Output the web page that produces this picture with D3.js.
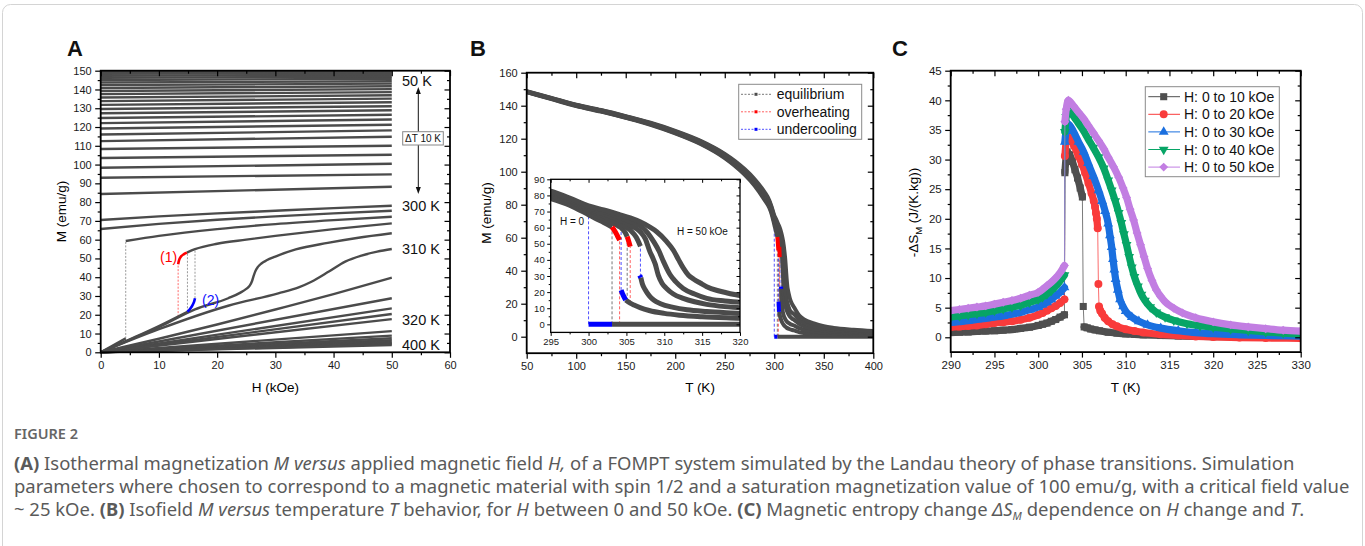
<!DOCTYPE html>
<html>
<head>
<meta charset="utf-8">
<style>
body { margin: 0; background: #fff; overflow: hidden; }
svg { display: block; }
</style>
</head>
<body>
<svg width="1365" height="546"></svg>
<script src="https://d3js.org/d3.v7.min.js"></script>
<script>

// ---------- panel A : isotherms M(H) ----------
var aTlow = [50,60,70,80,90,100,110,120,130,140,150,160,170,180,190,200,210,220,230,240,250,260,270,280,290];
var aM0  = [149.2,148.3,147.3,146.2,145.0,143.7,142.3,140.8,139.2,137.5,135.7,133.8,131.8,129.6,127.3,124.8,122.1,119.2,116.0,112.5,108.3,103.5,98.3,93.0,84.3];
var aM50 = [149.6,148.8,147.8,146.8,145.7,144.4,143.1,141.7,140.2,138.6,136.9,135.1,133.2,131.1,128.9,126.5,124.0,121.2,118.2,114.8,110.0,105.2,100.4,94.8,88.2];
var aTpara = [314,316,318,320,330,340,350,360,370,380,390,400];
var aMpara = [28.8,23.4,20.4,17.7,11.3,8.9,7.5,6.5,5.7,5.0,4.4,3.9];
var a300 = [[0,70.5],[10,72.4],[20,74.0],[30,75.4],[40,76.8],[50,78.1]];
var a302 = [[0,65.7],[10,68.4],[20,70.6],[30,72.4],[40,74.0],[50,75.4]];
var a304hi = [[4.3,59.3],[10,62.0],[20,65.6],[30,68.3],[40,70.4],[50,72.2]];
var a304lo = [[0,0],[4.3,7.4]];
var a306hi = [[14.8,53.1],[16.2,54.9],[20,57.8],[25,60.0],[30,62.0],[40,65.6],[50,68.7]];
var a306lo = [[0,0],[5,6.9],[10,14.0],[14.9,21.6]];
var a306over = [[13.3,46.9],[13.45,49.0],[13.8,51.0],[14.3,52.3],[14.8,53.1]];
var a306under = [[14.9,21.6],[15.4,23.3],[15.8,25.3],[16.05,27.0],[16.2,28.8]];
var a308 = [[0,0],[5,6.6],[10,13.4],[16.2,22.9],[21.9,28.8],[24,31.8],[25,33.8],[25.6,35.5],[26,38],[26.3,41],[26.6,43.5],[27,45.5],[27.6,47.3],[28.5,49],[30,51],[33.5,54.8],[39,58.3],[44,60.9],[50,63.4]];
var a310 = [[0,0],[10,12.3],[21.9,24.8],[30.5,31.4],[34,34.6],[36.2,37.6],[39.2,43],[42,48.3],[44.8,51.5],[47.5,53.6],[50,55]];
var a312 = [[0,0],[10,7.2],[20,14.8],[30,22.8],[40,31.0],[50,39.8]];
var aDash = [[4.3,7.4,59.3,"e"],[13.3,19,46.9,"o"],[14.9,21.6,53.1,"e"],[16.2,28.8,54.9,"e"]];
var aLabels = [["50 K",86],["300 K",211],["310 K",254],["320 K",325],["400 K",350]];

// ---------- panel B : isofield M(T), H = 0..50 kOe ----------
var bT   = [50,75,100,125,150,175,200,225,250,260,270,280,290,295,297.5];
var bM0  = [148.2,144.0,139.8,136.4,132.6,128.4,123.2,116.9,108.2,103.6,98.2,91.6,83.0,78.1,74.0];
var bM10 = [148.3,144.1,140.0,136.6,132.8,128.7,123.5,117.3,108.7,104.2,98.9,92.4,84.0,79.1,75.2];
var bM20 = [148.4,144.3,140.1,136.8,133.0,128.9,123.8,117.7,109.2,104.8,99.6,93.2,85.0,80.0,76.2];
var bM30 = [148.5,144.4,140.3,137.0,133.3,129.2,124.2,118.1,109.8,105.4,100.2,94.0,85.9,80.8,76.9];
var bM40 = [148.7,144.6,140.5,137.2,133.5,129.4,124.5,118.5,110.3,106.0,100.9,94.8,86.8,81.7,77.6];
var bM50 = [148.8,144.7,140.6,137.4,133.7,129.7,124.8,118.9,110.8,106.6,101.6,95.6,87.8,82.6,78.3];
var b0hi  = [[300,68.0],[301,65.5],[302,63.2],[303.1,60.4]];
var b0over = [[303.1,60.4],[303.5,57.6],[303.8,55.0],[304.1,52.3]];
var b0under = [[300,0],[303.1,0]];
var b0lo  = [[303.1,0],[400,0]];
var b10hi = [[300,69.6],[301,67.6],[302,65.5],[303,63.3],[304,60.8],[304.4,59.4],[304.8,57.2],[305.1,54.4]];
var b10over = [[305.1,54.4],[305.3,51.6],[305.5,48.2]];
var b10under = [[304.3,21.3],[304.6,17.8],[304.9,15.1]];
var b10lo = [[304.9,15.1],[305.5,13.2],[306,12.0],[306.8,10.4],[308,8.6],[310,6.8],[312,5.7],[315,4.7],[320,3.8],[325,2.8],[330,2.2],[340,1.6],[350,1.3],[360,1.1],[380,0.9],[400,0.7]];
var b20hi = [[300,70.8],[302,67.2],[304,63.0],[305.5,58.5],[306.3,54.0],[306.85,48.5]];
var b20under = [[306.75,30.4],[306.9,29.0]];
var b20lo = [[306.9,29.0],[307.1,25.2],[307.5,21.3],[308,17.8],[308.6,15.1],[309.5,12.8],[311.2,10.5],[313,9.0],[315.6,7.9],[320,6.8],[325,5.2],[330,4.2],[340,3.2],[350,2.6],[360,2.2],[380,1.7],[400,1.4]];
var b30 = [[300,71.7],[302,68.6],[304,65.0],[305.5,61.4],[306.8,57.5],[307.5,53.0],[308.1,45.1],[308.5,41.0],[308.8,37.5],[309.2,30.6],[309.7,25.5],[310.3,22.3],[311.2,18.8],[312.5,16.1],[314,14.0],[315.6,12.4],[318,11.0],[320,10.3],[325,7.8],[330,6.3],[340,4.7],[350,3.8],[360,3.2],[380,2.5],[400,2.1]];
var b40 = [[300,72.6],[302,69.9],[304,66.7],[305.5,63.8],[306.8,61.2],[307.8,56.8],[308.6,51.3],[309.3,45.5],[309.9,38.9],[310.4,34.0],[310.8,30.6],[311.5,26.5],[312.5,22.3],[314,18.8],[315.6,16.1],[318,14.5],[320,13.7],[325,10.3],[330,8.4],[340,6.3],[350,5.0],[360,4.2],[380,3.3],[400,2.7]];
var b50 = [[300,73.5],[302,71.0],[304,68.2],[305.5,66.0],[306.8,63.6],[308,60.6],[309,57.5],[310.2,52.0],[311.2,46.0],[311.9,40.0],[312.5,35.0],[313.2,30.5],[313.9,28.0],[314.8,25.5],[315.6,23.4],[317,21.0],[318.2,19.6],[320,17.8],[325,13.0],[330,10.5],[340,8.0],[350,6.3],[360,5.3],[380,4.2],[400,3.4]];
var bDash = [[300,0,68.0,"u"],[303.1,0,60.4,"e"],[304.1,0,52.3,"o"],[304.3,21.3,59.6,"u"],[305.1,14.6,54.4,"e"],[305.5,13.2,48.2,"o"],[306.85,29.6,48.5,"u"]];
var bLegend = ["equilibrium","overheating","undercooling"];

// ---------- panel C : -dS_M(T) ----------
var c10a = [[290,0.8],[291,0.85],[292,0.9],[293,1.0],[294,1.05],[295,1.1],[296,1.2],[297,1.3],[298,1.5],[299,1.7],[300,2.0],[300.5,2.2],[301,2.4],[301.5,2.7],[302,3.0],[302.5,3.4],[303,3.8]];
var c10b = [[303.05,27.8],[303.3,31.3],[303.6,30.8],[303.9,29.7],[304.2,28.3],[304.5,26.9],[304.8,25.2],[305.05,23.7]];
var c10c = [[305.15,5.2]];
var c10d = [[305.25,1.75],[305.6,1.6],[306,1.4],[306.5,1.25],[307,1.1],[308,0.85],[309,0.7],[310,0.58],[311,0.5],[312,0.42],[314,0.3],[316,0.22],[318,0.16],[320,0.12],[323,0.06],[326,0.02],[330,-0.02]];
var c20a = [[290,1.7],[291,1.8],[292,1.9],[293,2.0],[294,2.2],[295,2.4],[296,2.55],[297,2.7],[298,2.95],[299,3.3],[300,3.8],[300.5,4.1],[301,4.5],[301.5,4.9],[302,5.3],[302.5,5.8],[303,6.4]];
var c20b = [[303.05,30.6],[303.3,33.9],[303.7,33.4],[304.1,32.3],[304.6,30.6],[305,29.2],[305.35,27.8],[305.75,26.0],[306.1,24.3],[306.35,23.0],[306.5,22.0],[306.6,21.0],[306.7,20.0],[306.8,18.4]];
var c20c = [[306.88,9.0]];
var c20d = [[306.95,5.2],[307.1,4.5],[307.3,4.0],[307.6,3.3],[308,2.7],[308.5,2.2],[309,1.85],[310,1.35],[311,1.05],[312,0.8],[314,0.5],[316,0.3],[318,0.15],[320,0.05],[323,-0.05],[326,-0.12],[330,-0.18]];
var c30a = [[290,2.5],[291,2.65],[292,2.8],[293,3.0],[294,3.2],[295,3.4],[296,3.6],[297,3.9],[298,4.2],[299,4.65],[300,5.1],[300.5,5.5],[301,5.9],[301.5,6.4],[302,7.0],[302.5,7.6],[303,8.4]];
var c30b = [[303.05,33.0],[303.2,35.0],[303.45,36.0],[304,34.8],[304.6,33.0],[305.2,31.3],[305.7,29.4],[306.3,27.2],[306.9,24.8],[307.3,23.0],[307.65,21.3],[308,19.2],[308.2,17.2],[308.4,15.2],[308.55,13.2],[308.7,11.4],[308.85,9.8],[309.1,8.0],[309.35,6.4],[309.7,5.2],[310,4.4],[310.7,3.4],[311.5,2.7],[312.5,2.1],[314,1.55],[316,1.1],[318,0.8],[320,0.6],[323,0.42],[326,0.3],[330,0.2]];
var c40a = [[290,3.4],[291,3.6],[292,3.8],[293,4.0],[294,4.2],[295,4.5],[296,4.8],[297,5.1],[298,5.4],[299,5.9],[300,6.4],[300.5,6.8],[301,7.3],[301.5,7.9],[302,8.6],[302.5,9.5],[303,10.5]];
var c40b = [[303.05,34.7],[303.2,37.2],[303.4,38.4],[304,37.4],[304.6,36.1],[305.2,34.8],[305.7,33.5],[306.3,32.0],[306.9,30.4],[307.5,28.5],[308,26.5],[308.4,24.8],[308.8,23.0],[309.2,21.0],[309.5,19.3],[309.8,17.4],[310.1,15.6],[310.4,13.6],[310.7,11.8],[311,10.2],[311.4,8.6],[311.8,7.2],[312.2,6.2],[312.8,5.1],[313.5,4.2],[314.5,3.4],[315.5,2.85],[317,2.3],[318.5,1.95],[320,1.7],[322,1.4],[324,1.15],[326,0.9],[328,0.7],[330,0.55]];
var c50a = [[290,4.5],[291,4.7],[292,4.9],[293,5.1],[294,5.3],[295,5.6],[296,5.9],[297,6.2],[298,6.6],[299,7.1],[300,7.6],[300.5,8.1],[301,8.7],[301.5,9.3],[302,10.0],[302.5,10.9],[303,12.1]];
var c50b = [[303.05,36.4],[303.2,38.5],[303.45,40.0],[304,39.1],[304.6,38.0],[305.2,36.9],[305.7,35.8],[306.3,34.5],[306.9,33.2],[307.5,31.8],[308,30.4],[308.6,28.8],[309.2,27.0],[309.7,25.2],[310.1,23.6],[310.5,21.6],[310.9,19.8],[311.3,17.6],[311.7,15.6],[312.1,13.6],[312.5,11.6],[313,9.6],[313.5,8.0],[314,6.9],[314.5,6.0],[315.5,4.9],[316.5,4.1],[318,3.3],[320,2.6],[322,2.1],[324,1.75],[326,1.45],[328,1.2],[330,1.05]];
var cNames = ["H: 0 to 10 kOe","H: 0 to 20 kOe","H: 0 to 30 kOe","H: 0 to 40 kOe","H: 0 to 50 kOe"];

var capLines = [
  [["(A)","b"],[" Isothermal magnetization ",""],["M versus","i"],[" applied magnetic field ",""],["H,","i"],[" of a FOMPT system simulated by the Landau theory of phase transitions. Simulation",""]],
  [["parameters where chosen to correspond to a magnetic material with spin 1/2 and a saturation magnetization value of 100 emu/g, with a critical field value",""]],
  [["~ 25 kOe. ",""],["(B)","b"],[" Isofield ",""],["M versus","i"],[" temperature ",""],["T","i"],[" behavior, for ",""],["H","i"],[" between 0 and 50 kOe. ",""],["(C)","b"],[" Magnetic entropy change ",""],["\u0394S","i"],["M","s"],[" dependence on ",""],["H","i"],[" change and ",""],["T","i"],[".",""]]
];

// ------------------------------------------------------------
var FONT = "'Liberation Sans', Arial, Helvetica, sans-serif";
var GREY = "#4b4b4b";
var svg = d3.select("svg").attr("font-family", FONT);
var defs = svg.append("defs");

svg.append("rect").attr("x", 2.5).attr("y", 4.5).attr("width", 1360).attr("height", 600)
  .attr("rx", 8).attr("fill", "none").attr("stroke", "#d4d4d4");

function clip(id, x, y) {
  defs.append("clipPath").attr("id", id).append("rect")
    .attr("x", x.range()[0]).attr("y", y.range()[1])
    .attr("width", x.range()[1] - x.range()[0]).attr("height", y.range()[0] - y.range()[1]);
  return "url(#" + id + ")";
}

function frameAxes(g, x, y, o) {
  var xl = x.range()[0], xr = x.range()[1], yb = y.range()[0], yt = y.range()[1];
  function part(axis, tx, ty, vals, size, lab) {
    var a = g.append("g").attr("transform", "translate(" + tx + "," + ty + ")")
      .call(axis.tickValues(vals).tickSize(size).tickSizeOuter(0).tickPadding(o.pad)
        .tickFormat(lab ? d3.format("d") : function() { return ""; }));
    a.select(".domain").remove();
    a.selectAll(".tick line").attr("stroke", "#000").attr("stroke-width", o.tw);
    a.selectAll(".tick text").attr("font-size", o.fs).attr("font-family", FONT).attr("fill", "#1a1a1a");
  }
  part(d3.axisBottom(x), 0, yb, o.xt, o.tl, true);
  part(d3.axisBottom(x), 0, yb, o.xm, o.tm, false);
  part(d3.axisTop(x), 0, yt, o.xt, -o.tl, false);
  part(d3.axisTop(x), 0, yt, o.xm, -o.tm, false);
  part(d3.axisLeft(y), xl, 0, o.yt, o.tl, true);
  part(d3.axisLeft(y), xl, 0, o.ym, o.tm, false);
  part(d3.axisRight(y), xr, 0, o.yt, -o.tl, false);
  part(d3.axisRight(y), xr, 0, o.ym, -o.tm, false);
  g.append("rect").attr("x", xl).attr("y", yt).attr("width", xr - xl).attr("height", yb - yt)
    .attr("fill", "none").attr("stroke", "#000").attr("stroke-width", o.sw);
}

function panelLabel(x, txt) {
  svg.append("text").attr("x", x).attr("y", 56).attr("font-size", 22).attr("font-weight", "bold")
    .attr("fill", "#111").text(txt);
}

// ============ A ============
var xA = d3.scaleLinear().domain([0, 60]).range([100.7, 450]);
var yA = d3.scaleLinear().domain([0, 150]).range([352.3, 70.7]);
var gA = svg.append("g");
var lineA = d3.line().x(function(d) { return xA(d[0]); }).y(function(d) { return yA(d[1]); }).curve(d3.curveMonotoneX);

aDash.forEach(function(d) {
  gA.append("line").attr("x1", xA(d[0])).attr("x2", xA(d[0])).attr("y1", yA(d[1])).attr("y2", yA(d[2]))
    .attr("stroke", d[3] === "o" ? "#ff6a6a" : "#9a9a9a").attr("stroke-width", 1).attr("stroke-dasharray", "2,1.5");
});
function pathA(data, color, w) {
  gA.append("path").attr("d", lineA(data)).attr("fill", "none").attr("stroke", color).attr("stroke-width", w);
}
aTlow.forEach(function(t, i) { pathA([[0, aM0[i]], [50, aM50[i]]], GREY, 2.4); });
aTpara.forEach(function(t, i) { pathA([[0, 0], [50, aMpara[i]]], GREY, 2.4); });
[a300, a302, a304hi, a304lo, a306hi, a306lo, a308, a310, a312].forEach(function(c) { pathA(c, GREY, 2.4); });
pathA(a306over, "#ff0000", 2.6);
pathA(a306under, "#0000ff", 2.6);

frameAxes(gA, xA, yA, { xt: d3.range(0, 61, 10), xm: d3.range(5, 60, 10), yt: d3.range(0, 151, 10), ym: d3.range(5, 150, 10),
  tl: 5.5, tm: 3, pad: 3.5, fs: 11, tw: 1.2, sw: 1.8 });

gA.append("text").attr("x", 160).attr("y", 262).attr("font-size", 14).attr("fill", "#ff0000").text("(1)");
gA.append("text").attr("x", 202).attr("y", 305).attr("font-size", 14).attr("fill", "#1010ff").text("(2)");
aLabels.forEach(function(d) {
  gA.append("text").attr("x", 402).attr("y", d[1]).attr("font-size", 14.5).attr("fill", "#111").text(d[0]);
});
// delta T arrow
gA.append("line").attr("x1", 418.3).attr("x2", 418.3).attr("y1", 91).attr("y2", 190).attr("stroke", "#111").attr("stroke-width", 1);
gA.append("path").attr("d", "M418.3,87 L415.8,94 L420.8,94 Z").attr("fill", "#111");
gA.append("path").attr("d", "M418.3,194 L415.8,187 L420.8,187 Z").attr("fill", "#111");
gA.append("rect").attr("x", 402.7).attr("y", 131.7).attr("width", 40.6).attr("height", 13.3)
  .attr("fill", "#fff").attr("stroke", "#888").attr("stroke-width", 1);
gA.append("text").attr("x", 423).attr("y", 142).attr("text-anchor", "middle").attr("font-size", 10).attr("fill", "#111").text("\u0394T 10 K");

gA.append("text").attr("x", 275.4).attr("y", 392).attr("text-anchor", "middle").attr("font-size", 13.5).text("H (kOe)");
gA.append("text").attr("transform", "translate(66,211.5) rotate(-90)").attr("text-anchor", "middle").attr("font-size", 13.5).text("M (emu/g)");
panelLabel(67, "A");

// ============ B ============
var xB = d3.scaleLinear().domain([50, 400]).range([526.7, 873.3]);
var yB = d3.scaleLinear().domain([-10, 160]).range([353.2, 72.7]);
var xI = d3.scaleLinear().domain([295, 320]).range([550.7, 740]);
var yI = d3.scaleLinear().domain([-5, 90]).range([332.4, 179.3]);

function base(arr) { return bT.map(function(t, i) { return [t, arr[i]]; }); }
var bGrey = [base(bM0).concat(b0hi), b0lo, base(bM10).concat(b10hi), b10lo, base(bM20).concat(b20hi), b20lo,
  base(bM30).concat(b30), base(bM40).concat(b40), base(bM50).concat(b50)];
var bRed = [b0over, b10over];
var bBlue = [b0under, b10under, b20under];
var dashCol = { e: "#777", o: "#ff6060", u: "#5050ff" };

function drawB(g, x, y, w) {
  var line = d3.line().x(function(d) { return x(d[0]); }).y(function(d) { return y(d[1]); }).curve(d3.curveMonotoneX);
  bDash.forEach(function(d) {
    g.append("line").attr("x1", x(d[0])).attr("x2", x(d[0])).attr("y1", y(d[1])).attr("y2", y(d[2]))
      .attr("stroke", dashCol[d[3]]).attr("stroke-width", 1).attr("stroke-dasharray", "3,2");
  });
  bGrey.forEach(function(c) { g.append("path").attr("d", line(c)).attr("fill", "none").attr("stroke", GREY).attr("stroke-width", w); });
  bRed.forEach(function(c) { g.append("path").attr("d", line(c)).attr("fill", "none").attr("stroke", "#ff0000").attr("stroke-width", w); });
  bBlue.forEach(function(c) { g.append("path").attr("d", line(c)).attr("fill", "none").attr("stroke", "#0000ff").attr("stroke-width", w); });
}

var gB = svg.append("g");
drawB(gB.append("g").attr("clip-path", clip("clipB", xB, yB)), xB, yB, 4);
frameAxes(gB, xB, yB, { xt: d3.range(50, 401, 50), xm: d3.range(75, 400, 50), yt: d3.range(0, 161, 20), ym: d3.range(10, 160, 20),
  tl: 5.5, tm: 3, pad: 3.5, fs: 11, tw: 1.2, sw: 1.8 });

// legend B
var legB = gB.append("g");
legB.append("rect").attr("x", 738.7).attr("y", 84.3).attr("width", 123).attr("height", 55)
  .attr("fill", "#fff").attr("stroke", "#8a8a8a").attr("stroke-width", 1);
bLegend.forEach(function(name, i) {
  var yy = 94.3 + i * 17.5, col = ["#777", "#ff6060", "#5050ff"][i], mk = [GREY, "#ff0000", "#0000ff"][i];
  legB.append("line").attr("x1", 741).attr("x2", 771.5).attr("y1", yy).attr("y2", yy)
    .attr("stroke", col).attr("stroke-width", 1).attr("stroke-dasharray", "2,1.5");
  legB.append("rect").attr("x", 754.5).attr("y", yy - 1.5).attr("width", 3).attr("height", 3).attr("fill", mk);
  legB.append("text").attr("x", 776.7).attr("y", yy + 4.8).attr("font-size", 14).attr("fill", "#111").text(name);
});

// inset
var gI = gB.append("g");
gI.append("rect").attr("x", 550.7).attr("y", 179.3).attr("width", 189.3).attr("height", 153.1).attr("fill", "#fff");
drawB(gI.append("g").attr("clip-path", clip("clipI", xI, yI)), xI, yI, 5);
frameAxes(gI, xI, yI, { xt: d3.range(295, 321, 5), xm: d3.range(297.5, 320, 5), yt: d3.range(0, 91, 10), ym: d3.range(5, 90, 10),
  tl: 3.5, tm: 2, pad: 2.5, fs: 9.5, tw: 1, sw: 1.3 });
gI.append("text").attr("x", 560).attr("y", 225).attr("font-size", 10).attr("fill", "#111").text("H = 0");
gI.append("text").attr("x", 677).attr("y", 235).attr("font-size", 10).attr("fill", "#111").text("H = 50 kOe");

gB.append("text").attr("x", 700).attr("y", 392).attr("text-anchor", "middle").attr("font-size", 13.5).text("T (K)");
gB.append("text").attr("transform", "translate(491,213) rotate(-90)").attr("text-anchor", "middle").attr("font-size", 13.5).text("M (emu/g)");
panelLabel(470, "B");

// ============ C ============
var xC = d3.scaleLinear().domain([290, 330]).range([950.7, 1300.7]);
var yC = d3.scaleLinear().domain([-2.5, 45]).range([352.1, 70.7]);
var gC = svg.append("g");
var sq = d3.symbol().type(d3.symbolSquare).size(50)();
var ci = d3.symbol().type(d3.symbolCircle).size(50)();
var tr = d3.symbol().type(d3.symbolTriangle).size(42)();
var seriesC = [
  { name: cNames[0], color: "#4f4f4f", sym: sq, rot: 0, segs: [c10a, c10b, c10c, c10d] },
  { name: cNames[1], color: "#f93b3b", sym: ci, rot: 0, segs: [c20a, c20b, c20c, c20d] },
  { name: cNames[2], color: "#1a6fdf", sym: tr, rot: 0, segs: [c30a, c30b] },
  { name: cNames[3], color: "#07a566", sym: tr, rot: 180, segs: [c40a, c40b] },
  { name: cNames[4], color: "#c27ee2", sym: d3.symbol().type(d3.symbolSquare).size(40)(), rot: 45, segs: [c50a, c50b] }
];
var gCp = gC.append("g").attr("clip-path", clip("clipC", xC, yC));
var thin = d3.line().x(function(d) { return xC(d[0]); }).y(function(d) { return yC(d[1]); });
var band = d3.line().x(function(d) { return xC(d[0]); }).y(function(d) { return yC(d[1]); }).curve(d3.curveMonotoneX);
seriesC.forEach(function(s) {
  var all = [].concat.apply([], s.segs);
  gCp.append("path").attr("d", thin(all)).attr("fill", "none").attr("stroke", s.color).attr("stroke-opacity", 0.75).attr("stroke-width", 1);
  s.segs.forEach(function(seg) {
    if (seg.length > 1) gCp.append("path").attr("d", band(seg)).attr("fill", "none").attr("stroke", s.color)
      .attr("stroke-width", 7.2).attr("stroke-linejoin", "round").attr("stroke-linecap", "round");
  });
  gCp.selectAll(null).data(all).enter().append("path").attr("d", s.sym).attr("fill", s.color)
    .attr("transform", function(d) { return "translate(" + xC(d[0]) + "," + yC(d[1]) + ") rotate(" + s.rot + ")"; });
});
frameAxes(gC, xC, yC, { xt: d3.range(290, 331, 5), xm: d3.range(292.5, 330, 5), yt: d3.range(0, 46, 5), ym: d3.range(2.5, 45, 5),
  tl: 5.5, tm: 3, pad: 3.5, fs: 11.5, tw: 1.2, sw: 1.8 });

// legend C
var legC = gC.append("g");
legC.append("rect").attr("x", 1145.3).attr("y", 86.7).attr("width", 134).attr("height", 90)
  .attr("fill", "#fff").attr("stroke", "#8a8a8a").attr("stroke-width", 1);
seriesC.forEach(function(s, i) {
  var yy = 96.7 + i * 17.6;
  legC.append("line").attr("x1", 1148.3).attr("x2", 1180).attr("y1", yy).attr("y2", yy).attr("stroke", s.color).attr("stroke-width", 1);
  legC.append("path").attr("d", s.sym).attr("fill", s.color).attr("transform", "translate(1163.7," + yy + ") rotate(" + s.rot + ")");
  legC.append("text").attr("x", 1184).attr("y", yy + 5).attr("font-size", 14).attr("fill", "#111").text(s.name);
});

gC.append("text").attr("x", 1125.7).attr("y", 392).attr("text-anchor", "middle").attr("font-size", 13.5).text("T (K)");
var yl = gC.append("text").attr("transform", "translate(918,212.5) rotate(-90)").attr("text-anchor", "middle").attr("font-size", 13.5);
yl.append("tspan").text("-\u0394S");
yl.append("tspan").attr("dy", 3.5).attr("font-size", 9.5).text("M");
yl.append("tspan").attr("dy", -3.5).text(" (J/(K.kg))");
panelLabel(892, "C");

// ============ caption ============
var cap = svg.append("g").attr("font-family", "'Noto Sans', 'Open Sans', sans-serif").attr("fill", "#5a5a5a");
cap.append("text").attr("x", 14).attr("y", 439).attr("font-size", 14.5).attr("font-weight", 600).attr("fill", "#666").text("FIGURE 2");
var capY = [470, 493, 516];
var capNodes = capLines.map(function(parts, li) {
  var t = cap.append("text").attr("x", 14).attr("y", capY[li]).attr("font-size", 16);
  var prevSub = false;
  parts.forEach(function(p) {
    var ts = t.append("tspan").text(p[0]);
    if (p[1] === "b") ts.attr("font-weight", 700);
    if (p[1] === "i") ts.attr("font-style", "italic");
    if (p[1] === "s") ts.attr("font-style", "italic").attr("font-size", 11).attr("dy", 4);
    if (prevSub) ts.attr("dy", -4);
    prevSub = p[1] === "s";
  });
  return t;
});
// size the caption so that its longest line ends near the right border
var fsCap = 16 * 1336 / capNodes[1].node().getComputedTextLength();
capNodes.forEach(function(t) { t.attr("font-size", fsCap); });

</script>
</body>
</html>
